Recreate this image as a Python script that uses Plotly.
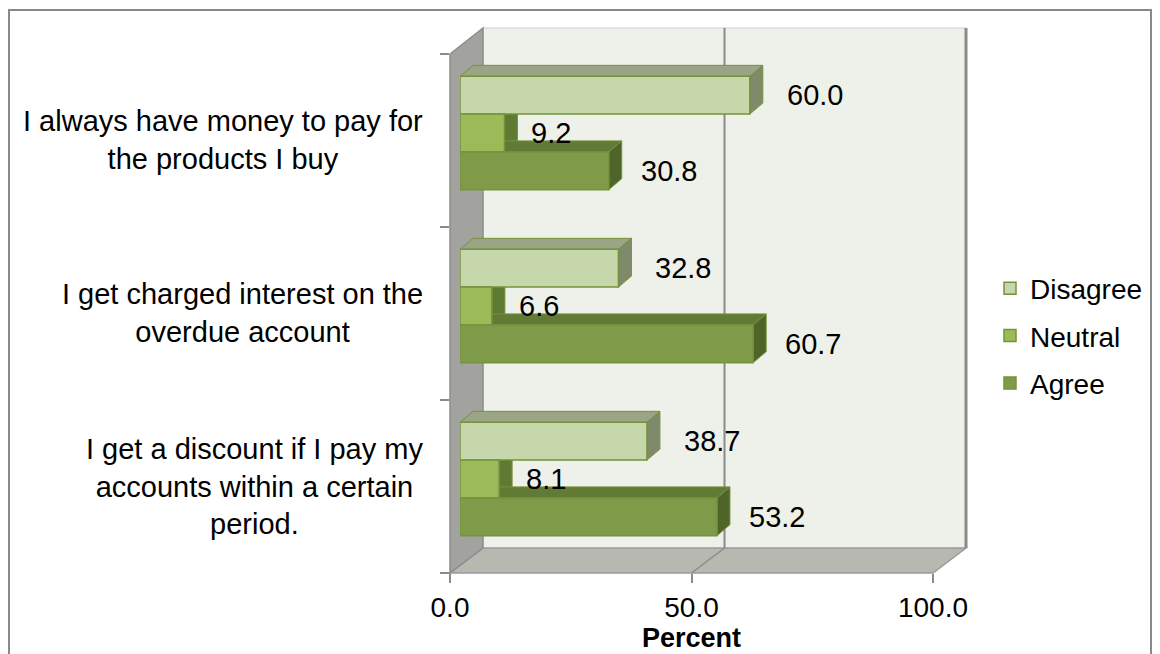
import plotly.graph_objects as go

# ---- data -------------------------------------------------------------
categories = [
    "I always have money to pay for<br>the products I buy",
    "I get charged interest on the<br>overdue account",
    "I get a discount if I pay my<br>accounts within a certain<br>period.",
]
series_names = ["Disagree", "Neutral", "Agree"]
disagree = [60.0, 32.8, 38.7]
neutral = [9.2, 6.6, 8.1]
agree = [30.8, 60.7, 53.2]
x_tick_values = [0, 50, 100]

# ---- styling ------------------------------------------------------------
W, H = 1160, 654
FONT = "Liberation Sans, Arial, sans-serif"
FS = 28
FS_LABEL = 29

front_colors = ["#c6d7ab", "#9bbb59", "#7f9a48"]
top_colors = ["#9aa586", "#7a9446", "#617a35"]
side_colors = ["#7f8a6b", "#5f7a33", "#4f6428"]
edge_color = "#76923c"
label_shift = [35, 25, 30]

# geometry of the 3-D box (pixels)
FX0, FX1 = 450, 933          # front edge: 0 .. 100
FY0, FY1 = 54, 573           # front category edge: top .. bottom
DX, DY = 33, 25              # wall depth
BSX, BSY = 10, 7.5           # bars sit a little way into the box
BDX, BDY = 13, 11            # bar depth

BAR_GAP = 0.345


def px(x):
    return x / W


def py(y):
    return 1 - y / H


def poly(points):
    return "M" + " L".join(f"{px(a):.5f},{py(b):.5f}" for a, b in points) + " Z"


fig = go.Figure()

values = [disagree, neutral, agree]
for name, vals, col in zip(series_names, values, front_colors):
    fig.add_trace(go.Bar(
        name=name, y=categories, x=vals, orientation="h",
        xaxis="x2", yaxis="y2",
        marker=dict(color=col, line=dict(color=edge_color, width=1.5)),
        legendgroup=name, hoverinfo="skip",
    ))

shapes = []

# back wall
shapes.append(dict(type="path", xref="paper", yref="paper", layer="below",
                   path=poly([(FX0 + DX, FY0 - DY - 1), (FX1 + DX, FY0 - DY - 1),
                              (FX1 + DX, FY1 - DY), (FX0 + DX, FY1 - DY)]),
                   fillcolor="#eef0ea", line=dict(width=0)))
shapes.append(dict(type="line", xref="paper", yref="paper", layer="below",
                   x0=px(FX0 + DX), x1=px(FX1 + DX),
                   y0=py(FY0 - DY - 1), y1=py(FY0 - DY - 1),
                   line=dict(color="#dcdcdc", width=1.5)))
# floor
shapes.append(dict(type="path", xref="paper", yref="paper", layer="below",
                   path=poly([(FX0, FY1), (FX0 + DX, FY1 - DY),
                              (FX1 + DX, FY1 - DY), (FX1, FY1)]),
                   fillcolor="#b7b9b1", line=dict(color="#9a9a9a", width=1.5)))
# left wall
shapes.append(dict(type="path", xref="paper", yref="paper", layer="below",
                   path=poly([(FX0, FY0), (FX0 + DX, FY0 - DY - 1),
                              (FX0 + DX, FY1 - DY), (FX0, FY1)]),
                   fillcolor="#a2a39e", line=dict(color="#8c8c8c", width=1.5)))
# right edge of back wall
shapes.append(dict(type="line", xref="paper", yref="paper", layer="below",
                   x0=px(FX1 + DX), x1=px(FX1 + DX),
                   y0=py(FY0 - DY - 1), y1=py(FY1 - DY),
                   line=dict(color="#8a8a8a", width=3)))

# gridlines on the back wall and floor
for t in x_tick_values[1:-1]:
    gx = FX0 + (FX1 - FX0) * t / 100
    shapes.append(dict(type="line", xref="paper", yref="paper", layer="below",
                       x0=px(gx + DX), x1=px(gx + DX),
                       y0=py(FY0 - DY - 1), y1=py(FY1 - DY),
                       line=dict(color="#8a8a8a", width=2)))
    shapes.append(dict(type="line", xref="paper", yref="paper", layer="below",
                       x0=px(gx), x1=px(gx + DX), y0=py(FY1), y1=py(FY1 - DY),
                       line=dict(color="#8a8a8a", width=1.5)))

# 3-D faces of each bar, in the bar axes' data units
x_units_per_px = 100 / (FX1 - FX0)
cat_units_per_px = len(categories) / (FY1 - FY0)
dxu = BDX * x_units_per_px
dyu = BDY * cat_units_per_px
bw = (1 - BAR_GAP) / len(series_names)

annotations = []
for i, vals in enumerate(values):
    off = (i - (len(series_names) - 1) / 2) * bw
    for j, v in enumerate(vals):
        c = j + off
        t, b = c - bw / 2, c + bw / 2
        top = f"M0,{t} L{v},{t} L{v + dxu},{t - dyu} L{dxu},{t - dyu} Z"
        side = f"M{v},{t} L{v + dxu},{t - dyu} L{v + dxu},{b - dyu} L{v},{b} Z"
        for pth, fc in ((top, top_colors[i]), (side, side_colors[i])):
            shapes.append(dict(type="path", xref="x2", yref="y2", layer="below",
                               path=pth, fillcolor=fc,
                               line=dict(color=edge_color, width=1)))
        annotations.append(dict(
            xref="x2", yref="y2", x=v, y=c, text=f"{v:.1f}",
            xanchor="left", yanchor="middle", xshift=label_shift[i],
            showarrow=False, font=dict(family=FONT, size=FS_LABEL, color="#000"),
        ))

# category labels, lines centred within each block
for j, cat in enumerate(categories):
    annotations.append(dict(
        xref="paper", yref="y", x=px(425), y=j, text=cat,
        xanchor="right", yanchor="middle", align="center", showarrow=False,
        font=dict(family=FONT, size=FS_LABEL, color="#000"),
    ))

# outer chart border
shapes.append(dict(type="rect", xref="paper", yref="paper", layer="above",
                   x0=px(9), x1=px(1151), y0=py(10), y1=py(H + 10),
                   line=dict(color="#898989", width=2), fillcolor="rgba(0,0,0,0)"))

fig.update_layout(
    width=W, height=H, autosize=False,
    margin=dict(l=0, r=0, t=0, b=0, pad=0, autoexpand=False),
    paper_bgcolor="white", plot_bgcolor="rgba(0,0,0,0)",
    font=dict(family=FONT, size=FS, color="#000"),
    barmode="group", bargap=BAR_GAP, bargroupgap=0,
    showlegend=True,
    legend=dict(x=px(990), xanchor="left", y=py(336), yanchor="middle",
                font=dict(family=FONT, size=FS), itemwidth=30,
                traceorder="grouped", tracegroupgap=8,
                bgcolor="rgba(0,0,0,0)"),
    # front axes carrying the ticks
    xaxis=dict(domain=[px(FX0), px(FX1)], range=[0, 100], anchor="y",
               tickvals=x_tick_values, tickformat=".1f",
               ticks="outside", ticklen=9, tickwidth=2, tickcolor="#8a8a8a",
               showgrid=False, zeroline=False, showline=False,
               tickfont=dict(family=FONT, size=FS),
               title=dict(text="<b>Percent</b>", font=dict(family=FONT, size=FS - 1),
                          standoff=5)),
    yaxis=dict(domain=[py(FY1), py(FY0)], range=[len(categories) - 0.5, -0.5],
               anchor="x", tickvals=[k - 0.5 for k in range(len(categories) + 1)],
               showticklabels=False, ticks="outside", ticklen=9, tickwidth=2,
               tickcolor="#8a8a8a", showgrid=False, zeroline=False,
               showline=False),
    # axes the bars are drawn on, set slightly into the box
    xaxis2=dict(domain=[px(FX0 + BSX), px(FX1 + BSX)], range=[0, 100],
                anchor="y2", visible=False),
    yaxis2=dict(domain=[py(FY1 - BSY), py(FY0 - BSY)], type="category",
                categoryorder="array", categoryarray=categories,
                range=[len(categories) - 0.5, -0.5], anchor="x2", visible=False),
    shapes=shapes,
    annotations=annotations,
)

fig.write_html("out.html")
